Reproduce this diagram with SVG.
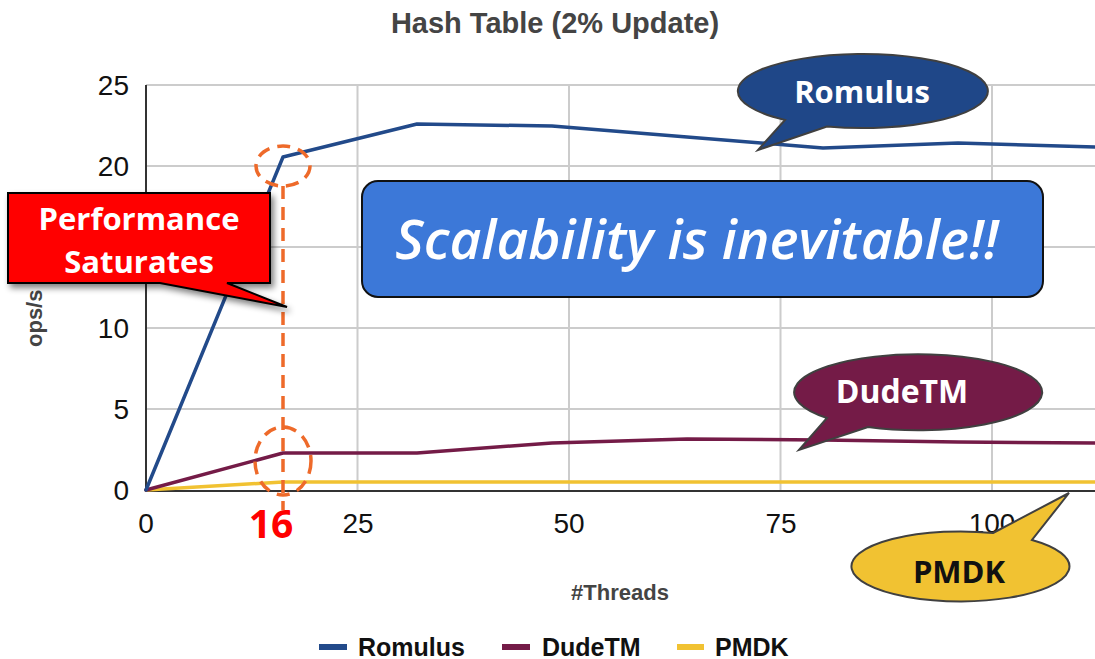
<svg xmlns="http://www.w3.org/2000/svg" width="1095" height="659" viewBox="0 0 1095 659">
<style>
.grid{stroke:#cccccc;stroke-width:2;fill:none}
.axis{stroke:#333333;stroke-width:2;fill:none}
.tick{font-family:"Liberation Sans",Arial,sans-serif;font-size:28px;fill:#111111}
.ttl{font-family:"Liberation Sans",Arial,sans-serif;font-weight:bold;fill:#444444}
.leg{font-family:"Liberation Sans",Arial,sans-serif;font-weight:bold;font-size:25px;fill:#111111}
.series{fill:none;stroke-width:3.5;stroke-linejoin:round;stroke-linecap:round}
.cal{font-family:"Open Sans","Noto Sans",sans-serif;font-weight:bold;text-anchor:middle}
.bub{stroke:#404040;stroke-width:2}
.dash{fill:none;stroke:#EE6A2A;stroke-width:3.5;stroke-dasharray:13 8}
</style>
<defs>
<filter id="sh" x="-10%" y="-10%" width="130%" height="140%">
<feGaussianBlur in="SourceAlpha" stdDeviation="3"/>
<feOffset dx="3" dy="4"/>
<feComponentTransfer><feFuncA type="linear" slope="0.5"/></feComponentTransfer>
<feMerge><feMergeNode/><feMergeNode in="SourceGraphic"/></feMerge>
</filter>
</defs>
<rect width="1095" height="659" fill="#ffffff"/>
<text class="ttl" x="555" y="33" font-size="29" text-anchor="middle">Hash Table (2% Update)</text>
<g id="grid">
<path class="grid" d="M146 85H1095M146 166H1095M146 247H1095M146 328H1095M146 409H1095"/>
<path class="grid" d="M357.5 85V490M569 85V490M780.5 85V490M992 85V490"/>
<path class="axis" d="M146 85V491H1095"/>
</g>
<g id="ticks">
<text class="tick" x="129" y="95" text-anchor="end">25</text>
<text class="tick" x="129" y="176" text-anchor="end">20</text>
<text class="tick" x="129" y="338" text-anchor="end">10</text>
<text class="tick" x="129" y="419" text-anchor="end">5</text>
<text class="tick" x="129" y="500" text-anchor="end">0</text>
<text class="tick" x="146" y="533" text-anchor="middle">0</text>
<text class="tick" x="358" y="533" text-anchor="middle">25</text>
<text class="tick" x="569" y="533" text-anchor="middle">50</text>
<text class="tick" x="781" y="533" text-anchor="middle">75</text>
<text class="tick" x="992" y="533" text-anchor="middle">100</text>
</g>
<text class="ttl" font-size="22" transform="translate(42 347) rotate(-90)">ops/s</text>
<text class="ttl" x="620" y="600" font-size="22" text-anchor="middle">#Threads</text>
<g id="connectors">
<polyline id="pmdk-line" class="series" stroke="#F1C232" points="146,490 283,482 417,482 552,482 687,482 823,482 958,482 1095,482"/>
<polyline id="dudetm-line" class="series" stroke="#741B47" points="146,490 283,453 417,453 552,443 687,439 823,440 958,442 1095,443"/>
<polyline id="romulus-line" class="series" stroke="#224A8A" points="146,490 283,157 417,124 552,126 687,137 823,148 958,143 1095,147"/>
<line class="dash" x1="283" y1="186" x2="283" y2="510"/>
<ellipse class="dash" cx="283" cy="166" rx="27" ry="20"/>
<ellipse class="dash" cx="283" cy="461" rx="28" ry="34"/>
</g>
<g id="legend">
<rect x="319" y="644" width="28" height="6" fill="#224A8A"/>
<text class="leg" x="358" y="656">Romulus</text>
<rect x="502" y="644" width="28" height="6" fill="#741B47"/>
<text class="leg" x="542" y="656">DudeTM</text>
<rect x="677" y="644" width="27" height="6" fill="#F1C232"/>
<text class="leg" x="715" y="656">PMDK</text>
</g>
<g id="label-16">
<text class="cal" x="271" y="538" font-size="39" fill="#FF0000">16</text>
</g>
<g id="callout-saturates">
<path d="M8 193H270V283H227L287 307L160 283H8Z" fill="#FF0000" stroke="#000000" stroke-width="2" stroke-linejoin="miter" filter="url(#sh)"/>
<text class="cal" x="139" y="230" font-size="31" fill="#ffffff">Performance</text>
<text class="cal" x="139" y="273" font-size="31" fill="#ffffff">Saturates</text>
</g>
<g id="box-scalability">
<rect x="362" y="181" width="681" height="116" rx="16" fill="#3C78D8" stroke="#111111" stroke-width="2"/>
<text x="697" y="259" font-family="'Open Sans','Noto Sans',sans-serif" font-style="italic" font-weight="600" font-size="55" fill="#ffffff" text-anchor="middle">Scalability is inevitable!!</text>
</g>
<g id="bubble-romulus">
<path class="bub" d="M785 120A125 37 0 1 1 827 126.5L758 150Z" fill="#1F4788"/>
<text class="cal" x="862" y="103" font-size="31" fill="#ffffff">Romulus</text>
</g>
<g id="bubble-dudetm">
<path class="bub" d="M827 418A124 38 0 1 1 868 427L799 450Z" fill="#741B47"/>
<text class="cal" x="902" y="403" font-size="32" fill="#ffffff">DudeTM</text>
</g>
<g id="bubble-pmdk">
<path class="bub" d="M993 533L1069 493L1032 540A109 35 0 1 1 993 533Z" fill="#F1C232"/>
<text class="cal" x="959" y="583" font-size="31" fill="#111111">PMDK</text>
</g>
</svg>
